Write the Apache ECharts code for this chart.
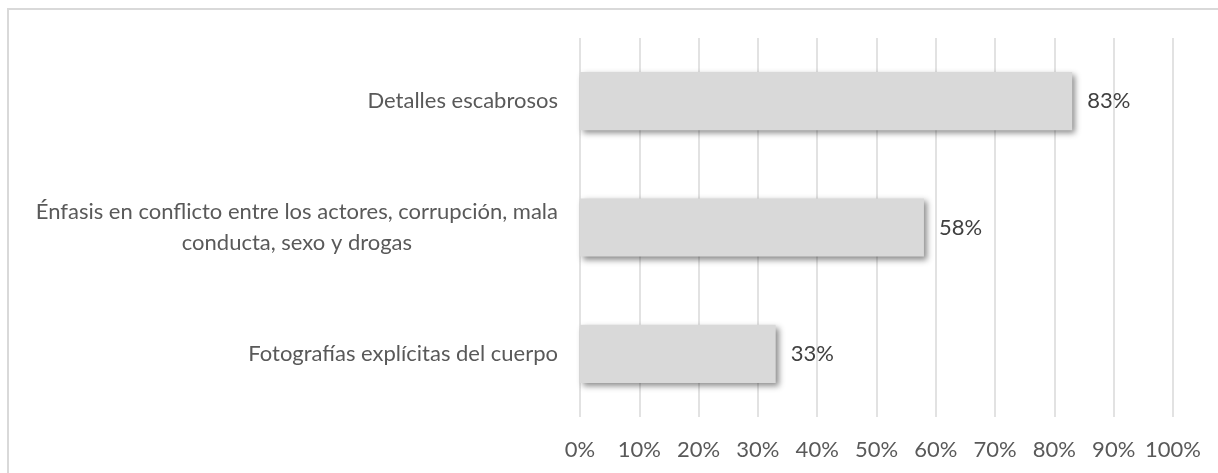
<!DOCTYPE html>
<html>
<head>
<meta charset="UTF-8">
<title></title>
<script src="https://cdn.jsdelivr.net/npm/echarts@6/dist/echarts.min.js"></script>
<style>
* { padding: 0; margin: 0; }
body { background: #fff; overflow: hidden; }
#main { width: 1218px; height: 473px; }
#frame {
  position: absolute; left: 7px; top: 8px; width: 1400px; height: 600px;
  border-left: 2px solid #d9d9d9; border-top: 2px solid #d9d9d9;
  pointer-events: none;
}
</style>
</head>
<body>
<div id="main"></div>
<div id="frame"></div>
<script>
// categories top to bottom
var categories = [
  'Detalles escabrosos',
  'Énfasis en conflicto entre los actores, corrupción, mala\nconducta, sexo y drogas',
  'Fotografías explícitas del cuerpo'
];
var values = [83, 58, 33];
var tickMax = 100;
var tickStep = 10;

var font = 'Lato';
var chart = echarts.init(document.getElementById('main'));

chart.setOption({
  animation: false,
  grid: { left: 580, right: 45, top: 38, bottom: 56, containLabel: false },
  xAxis: {
    type: 'value',
    min: 0,
    max: tickMax,
    interval: tickStep,
    axisLine: { show: false },
    axisTick: { show: false },
    splitLine: { lineStyle: { color: '#d9d9d9', width: 1.5 } },
    axisLabel: {
      formatter: '{value}%',
      color: '#595959',
      fontFamily: font,
      fontSize: 22,
      margin: 22
    }
  },
  yAxis: {
    type: 'category',
    inverse: true,
    data: categories,
    axisLine: { show: false },
    axisTick: { show: false },
    axisLabel: {
      color: '#595959',
      fontFamily: font,
      fontSize: 22,
      margin: 22,
      align: 'right',
      lineHeight: 31,
      formatter: function (v) {
        if (v.indexOf('\n') < 0) return v;
        return v.split('\n').map(function (s) { return '{c|' + s + '}'; }).join('\n');
      },
      rich: {
        c: { align: 'center', color: '#595959', fontFamily: font, fontSize: 22, lineHeight: 31 }
      }
    }
  },
  series: [{
    type: 'bar',
    data: values,
    barCategoryGap: '54%',
    itemStyle: {
      color: '#d9d9d9',
      shadowColor: 'rgba(0,0,0,0.45)',
      shadowBlur: 6,
      shadowOffsetX: 3,
      shadowOffsetY: 3
    },
    label: {
      show: true,
      position: 'right',
      distance: 15,
      formatter: '{c}%',
      color: '#404040',
      fontFamily: font,
      fontSize: 22
    }
  }]
});
</script>
</body>
</html>
